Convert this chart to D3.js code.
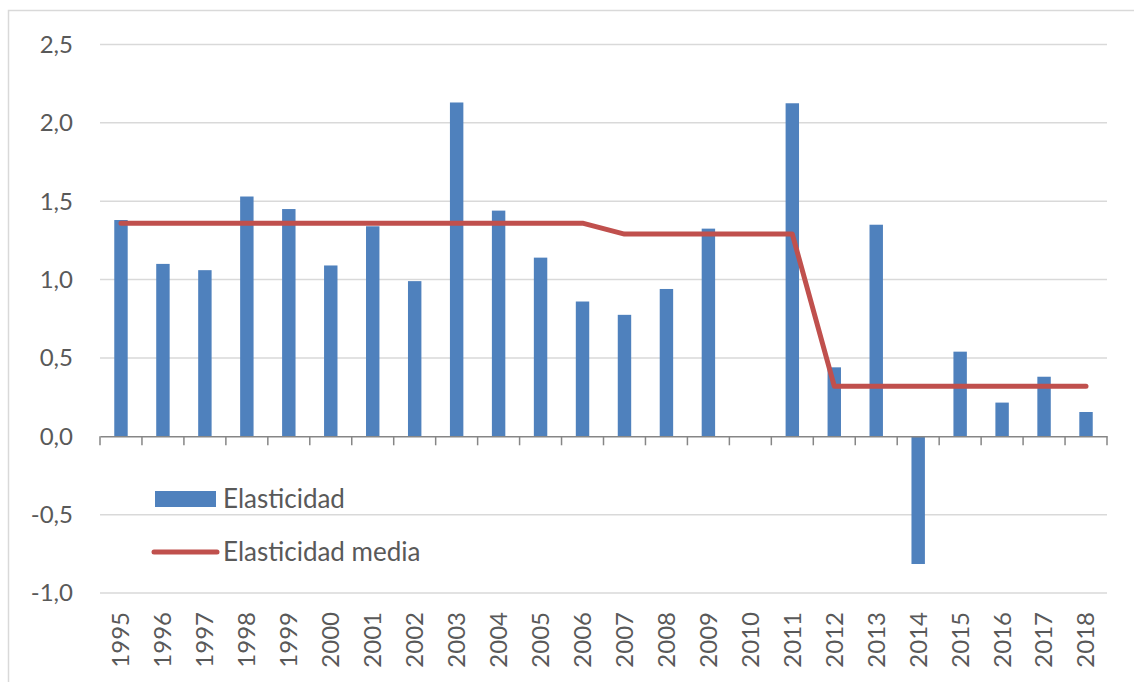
<!DOCTYPE html>
<html><head><meta charset="utf-8">
<script src="https://cdn.jsdelivr.net/npm/d3@7"></script>
<style>body{margin:0;background:#fff;} svg{display:block;} text{font-family:Lato, "Open Sans", sans-serif;fill:#595959;}</style>
</head><body>
<svg id="c" width="1134" height="682"></svg>
<script>
const years = ["1995","1996","1997","1998","1999","2000","2001","2002","2003","2004","2005","2006","2007","2008","2009","2010","2011","2012","2013","2014","2015","2016","2017","2018"];
const elasticidad = [1.38,1.10,1.06,1.53,1.45,1.09,1.34,0.99,2.13,1.44,1.14,0.86,0.775,0.94,1.325,0,2.125,0.44,1.35,-0.815,0.54,0.215,0.38,0.155];
const elasticidadMedia = [1.36,1.36,1.36,1.36,1.36,1.36,1.36,1.36,1.36,1.36,1.36,1.36,1.29,1.29,1.29,1.29,1.29,0.32,0.32,0.32,0.32,0.32,0.32,0.32];
const yTicks = [-1.0,-0.5,0.0,0.5,1.0,1.5,2.0,2.5];
const seriesNames = ["Elasticidad","Elasticidad media"];

const svg = d3.select("#c");
svg.append("rect").attr("x",8.5).attr("y",10.5).attr("width",1140).attr("height",690)
  .attr("fill","none").attr("stroke","#D9D9D9").attr("stroke-width",1.5);

const L=100, R=1107, T=44.5, B=593;
const x = d3.scaleBand().domain(years).range([L,R]).paddingInner(0.68).paddingOuter(0.34);
const y = d3.scaleLinear().domain([-1,2.5]).range([B,T]);
const fmt = d => d3.format(".1f")(d).replace(".",",").replace("−","-");

// gridlines
svg.append("g").selectAll("line").data(yTicks.filter(d=>d!==0)).join("line")
  .attr("x1",L).attr("x2",R).attr("y1",d=>y(d)).attr("y2",d=>y(d))
  .attr("stroke","#D9D9D9").attr("stroke-width",1.5);

// y labels
svg.append("g").selectAll("text").data(yTicks).join("text")
  .attr("x",73).attr("y",d=>y(d)).attr("dy","0.35em").attr("text-anchor","end")
  .style("font-size","24px").text(fmt);

// bars
svg.append("g").selectAll("rect").data(years).join("rect")
  .attr("x",d=>x(d)).attr("width",x.bandwidth())
  .attr("y",(d,i)=>y(Math.max(0,elasticidad[i])))
  .attr("height",(d,i)=>Math.abs(y(elasticidad[i])-y(0)))
  .attr("fill","#4F81BD");

// x axis
const xa = svg.append("g").attr("transform",`translate(0,${y(0)})`)
  .call(d3.axisBottom(x).tickSize(0).tickFormat(""));
xa.select(".domain").attr("stroke","#868686").attr("stroke-width",1.5);
const bounds = d3.range(years.length+1).map(i=>L+i*(R-L)/years.length);
svg.append("g").selectAll("line").data(bounds).join("line")
  .attr("x1",d=>d).attr("x2",d=>d).attr("y1",y(0)).attr("y2",y(0)+9)
  .attr("stroke","#868686").attr("stroke-width",1.5);

// year labels
svg.append("g").selectAll("text").data(years).join("text")
  .attr("transform",d=>`translate(${x(d)+x.bandwidth()/2},612) rotate(-90)`)
  .attr("text-anchor","end").attr("dy","0.35em")
  .style("font-size","24px").text(d=>d);

// line
const line = d3.line().x((d,i)=>x(years[i])+x.bandwidth()/2).y(d=>y(d));
svg.append("path").datum(elasticidadMedia).attr("d",line)
  .attr("fill","none").attr("stroke","#C0504D").attr("stroke-width",5)
  .attr("stroke-linecap","round").attr("stroke-linejoin","round");

// legend
const lg = svg.append("g");
lg.append("rect").attr("x",155).attr("y",491).attr("width",61).attr("height",16).attr("fill","#4F81BD");
lg.append("text").attr("x",223).attr("y",499).attr("dy","0.35em").style("font-size","26px").text(seriesNames[0]);
lg.append("line").attr("x1",154).attr("x2",217).attr("y1",552).attr("y2",552)
  .attr("stroke","#C0504D").attr("stroke-width",5).attr("stroke-linecap","round");
lg.append("text").attr("x",223).attr("y",552).attr("dy","0.35em").style("font-size","26px").text(seriesNames[1]);
</script>
</body></html>
